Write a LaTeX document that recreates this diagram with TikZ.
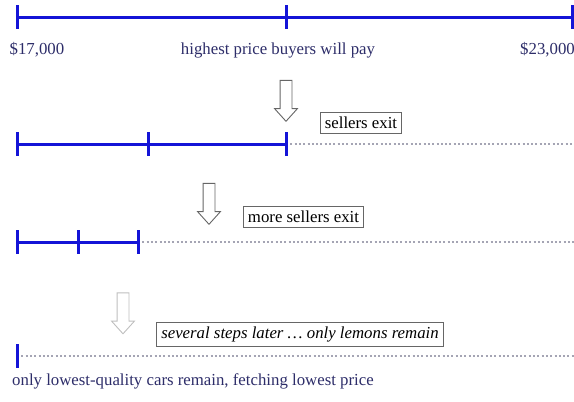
\documentclass[tikz,border=0pt]{standalone}
\usepackage{fontspec}
\setmainfont{Liberation Serif}
\usetikzlibrary{shapes.arrows}

\definecolor{scaleblue}{RGB}{20,20,215}
\definecolor{labelnavy}{RGB}{45,45,105}
\definecolor{dotgray}{RGB}{165,165,180}

\tikzset{
  scaleline/.style={scaleblue, line width=3pt},
  tickmark/.style={scaleblue, line width=3pt},
  exitline/.style={dotgray, line width=2.2pt, dash pattern=on 2pt off 2.3pt},
  label/.style={text=labelnavy, inner sep=0pt, font=\fontsize{16.8}{20}\selectfont},
  stepnote/.style={draw=black!60, line width=0.8pt, fill=white, inner sep=4.5pt,
    font=\fontsize{16.8}{20}\selectfont},
  downarrow/.style={draw=#1, line width=0.9pt, shape=single arrow, shape border rotate=270,
    minimum height=41pt, inner sep=5.5pt, single arrow head extend=5.5pt,
    single arrow tip angle=84},
}

\begin{document}
\begin{tikzpicture}[x=1pt, y=-1pt]
  \useasboundingbox (0,0) rectangle (574,402);

  % full price range
  \coordinate (r1a) at (17,17);
  \coordinate (r1b) at (286,17);
  \coordinate (r1c) at (572,17);
  \draw[scaleline] (r1a) -- (r1c);
  \foreach \x in {17,286,572} \draw[tickmark] (\x,5) -- (\x,29);
  \node[label] (low) at (37,50) {\$17,000};
  \node[label] (mid) at (278,50) {highest price buyers will pay};
  \node[label, anchor=east] (high) at (575,50) {\$23,000};

  % first step
  \node[downarrow=black!60] (arr1) at (286,97.5) {};
  \node[stepnote] (note1) at (361,122.5) {sellers exit};
  \coordinate (r2a) at (17,144);
  \coordinate (r2c) at (286,144);
  \coordinate (r2e) at (574,144);
  \draw[exitline] (r2c) -- (r2e);
  \draw[scaleline] (r2a) -- (r2c);
  \foreach \x in {17,148,286} \draw[tickmark] (\x,132) -- (\x,156);

  % second step
  \node[downarrow=black!60] (arr2) at (209,200.5) {};
  \node[stepnote] (note2) at (303.5,217) {more sellers exit};
  \coordinate (r3a) at (17,242);
  \coordinate (r3c) at (138,242);
  \coordinate (r3e) at (574,242);
  \draw[exitline] (r3c) -- (r3e);
  \draw[scaleline] (r3a) -- (r3c);
  \foreach \x in {17,78,138} \draw[tickmark] (\x,230) -- (\x,254);

  % last step
  \node[downarrow=black!25] (arr3) at (123,310) {};
  \node[stepnote, font=\fontsize{16.8}{20}\selectfont\itshape] (note3) at (300,334.5)
    {several steps later \dots\ only lemons remain};
  \coordinate (r4a) at (17,356);
  \coordinate (r4e) at (574,356);
  \draw[exitline] (r4a) -- (r4e);
  \draw[tickmark] (17,344) -- (17,368);
  \node[label, anchor=west] (lemons) at (12,381)
    {only lowest-quality cars remain, fetching lowest price};
\end{tikzpicture}
\end{document}
